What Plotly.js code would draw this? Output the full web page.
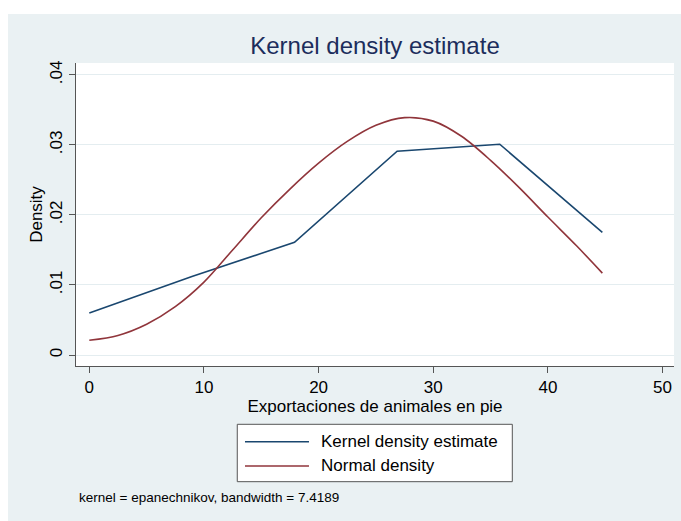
<!DOCTYPE html>
<html>
<head>
<meta charset="utf-8">
<script src="https://cdn.plot.ly/plotly-3.0.1.min.js"></script>
<style>
html,body{margin:0;padding:0;background:#ffffff;width:681px;height:521px;overflow:hidden;}
#chart{position:absolute;left:8px;top:14px;width:673px;height:507px;}
</style>
</head>
<body>
<div id="chart"></div>
<script>
// Kernel density estimate (evaluation points and densities)
const kdeX = [0, 8.95, 17.9, 26.85, 35.8, 44.75];
const kdeY = [0.0060, 0.0112, 0.0161, 0.0291, 0.0301, 0.0175];

// Normal density curve
const normX = [0, 2.5, 5, 7.5, 10, 12.5, 15, 17.5, 20, 22.5, 25, 27.5, 30, 32.5, 35, 37.5, 40, 42.5, 44.75];
const normY = [0.0021, 0.0028, 0.0044, 0.0069, 0.0104, 0.0150, 0.0196, 0.0237, 0.0274, 0.0305, 0.0328, 0.0339, 0.0334, 0.0312, 0.0278, 0.0239, 0.0197, 0.0156, 0.0117];

const yTickVals = [0, 0.01, 0.02, 0.03, 0.04];
const yTickText = ["0", ".01", ".02", ".03", ".04"];
const xTickVals = [0, 10, 20, 30, 40, 50];

const seriesNames = ["Kernel density estimate", "Normal density"];
const seriesColors = ["#1a476f", "#90353b"];

const font = "Liberation Sans, Arial, sans-serif";

const traces = [
  {x: kdeX, y: kdeY, type: "scatter", mode: "lines", name: seriesNames[0],
   line: {color: seriesColors[0], width: 1.6}, showlegend: false, hoverinfo: "skip"},
  {x: normX, y: normY, type: "scatter", mode: "lines", name: seriesNames[1],
   line: {color: seriesColors[1], width: 1.6, shape: "spline", smoothing: 0.9}, showlegend: false, hoverinfo: "skip"}
];

// custom legend geometry (paper coords)
const lgL = 0.2697, lgR = 0.7296, lgT = -0.1924, lgB = -0.3818;
const rowY = [-0.2498, -0.3300];
const sampleX0 = 0.2826, sampleX1 = 0.3896, textX = 0.4060;

const shapes = [
  {type: "rect", xref: "paper", yref: "paper", x0: lgL, x1: lgR, y0: lgB, y1: lgT,
   line: {color: "#555555", width: 1}, fillcolor: "#ffffff", layer: "above"}
];
const annotations = [];
seriesNames.forEach((n, i) => {
  shapes.push({type: "line", xref: "paper", yref: "paper", x0: sampleX0, x1: sampleX1, y0: rowY[i], y1: rowY[i],
    line: {color: seriesColors[i], width: 1.6}});
  annotations.push({xref: "paper", yref: "paper", x: textX, y: rowY[i], xanchor: "left", yanchor: "middle",
    text: n, showarrow: false, font: {family: font, size: 17, color: "#000000"}});
});
annotations.push({xref: "paper", yref: "paper", x: 0.0022, y: -0.4356, xanchor: "left", yanchor: "middle",
  text: "kernel = epanechnikov, bandwidth = 7.4189", showarrow: false,
  font: {family: font, size: 13.5, color: "#000000"}});

const layout = {
  width: 673, height: 507,
  margin: {l: 68, r: 7, t: 49, b: 155, pad: 0},
  paper_bgcolor: "#eaf1f3",
  plot_bgcolor: "#ffffff",
  title: {text: "Kernel density estimate", font: {family: font, size: 24, color: "#1c2d5c"},
          x: 0.5, xref: "paper", y: 1 - 32/507, yref: "container", yanchor: "middle"},
  xaxis: {
    range: [-1.16, 51.0], tickvals: xTickVals, ticks: "outside", ticklen: 6, tickcolor: "#555555",
    showline: true, linecolor: "#555555", linewidth: 1, showgrid: false, zeroline: false,
    tickfont: {family: font, size: 17, color: "#000000"},
    title: {text: "Exportaciones de animales en pie", font: {family: font, size: 17, color: "#000000"}, standoff: 1}
  },
  yaxis: {
    range: [-0.00157, 0.0417], tickvals: yTickVals, ticktext: yTickText, ticks: "outside", ticklen: 6,
    tickcolor: "#555555", tickangle: -90,
    showline: true, linecolor: "#555555", linewidth: 1, showgrid: true, gridcolor: "#e4edf0", gridwidth: 1,
    zeroline: false,
    tickfont: {family: font, size: 17, color: "#000000"},
    title: {text: "Density", font: {family: font, size: 17, color: "#000000"}, standoff: 0}
  },
  shapes: shapes,
  annotations: annotations,
  showlegend: false
};

Plotly.newPlot("chart", traces, layout, {displayModeBar: false, staticPlot: true});
</script>
</body>
</html>
